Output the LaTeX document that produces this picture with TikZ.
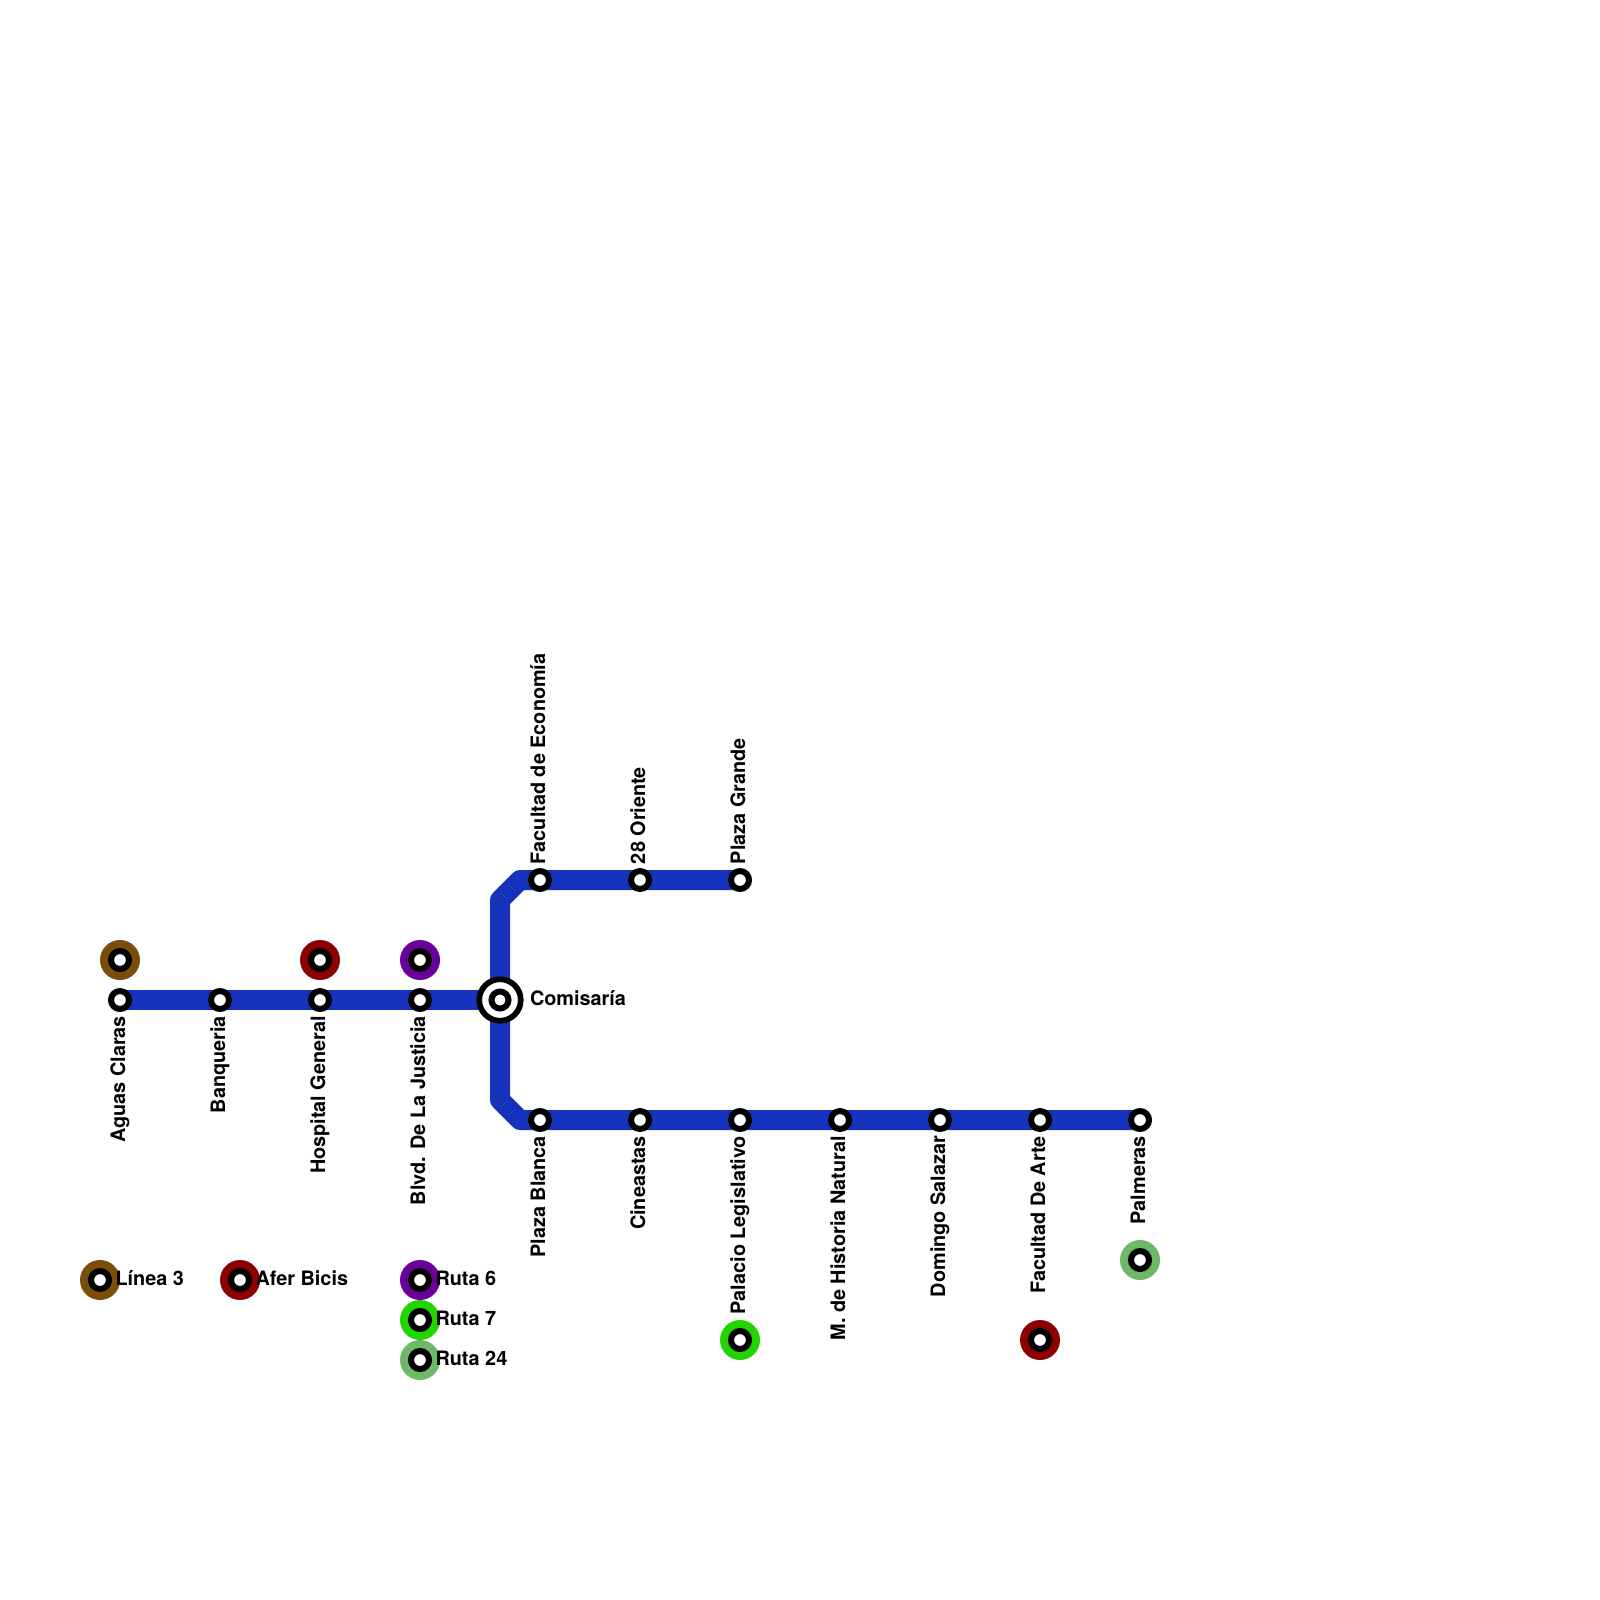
\documentclass[tikz,border=0pt]{standalone}
\usepackage{fontspec}
\setmainfont{TeX Gyre Heros}
\definecolor{lineblue}{HTML}{1733BD}
\definecolor{cbrown}{HTML}{7A4D08}
\definecolor{cred}{HTML}{8E0000}
\definecolor{cpurple}{HTML}{6A0099}
\definecolor{cgreen}{HTML}{22D400}
\definecolor{clight}{HTML}{6FB868}
\tikzset{
  stn/.style={circle,draw=black,fill=white,line width=6pt,minimum size=18pt,inner sep=0pt,outer sep=0pt},
  halo/.style={circle,fill=#1,minimum size=40pt,inner sep=0pt,outer sep=0pt},
  metro/.style={draw=lineblue,line width=20pt,line join=round},
  lbl/.style={font=\fontsize{19.85}{24}\selectfont\bfseries,inner sep=0pt,outer sep=0pt,text=black},
  up/.style={lbl,rotate=90,anchor=base west},
  down/.style={lbl,rotate=90,anchor=base east},
  side/.style={lbl,anchor=base west},
}
\begin{document}
\begin{tikzpicture}[x=1pt,y=-1pt]
\useasboundingbox (0,0) rectangle (1600,1600);
\coordinate (pA) at (120,1000);
\coordinate (pB) at (220,1000);
\coordinate (pC) at (320,1000);
\coordinate (pD) at (420,1000);
\coordinate (pX) at (500,1000);
\coordinate (pU0) at (500,900);
\coordinate (pU1) at (520,880);
\coordinate (pF) at (540,880);
\coordinate (pG) at (640,880);
\coordinate (pH) at (740,880);
\coordinate (pL0) at (500,1100);
\coordinate (pL1) at (520,1120);
\coordinate (pI) at (540,1120);
\coordinate (pJ) at (640,1120);
\coordinate (pK) at (740,1120);
\coordinate (pM) at (840,1120);
\coordinate (pN) at (940,1120);
\coordinate (pO) at (1040,1120);
\coordinate (pP) at (1140,1120);
\draw[metro] (pA) -- (pX);
\draw[metro] (pH) -- (pU1) -- (pU0) -- (pL0) -- (pL1) -- (pP);
% transfer halos
\node[halo=cbrown] (hA) at (120,960) {};
\node[halo=cred] (hC) at (320,960) {};
\node[halo=cpurple] (hD) at (420,960) {};
\node[halo=cgreen] (hK) at (740,1340) {};
\node[halo=cred] (hO) at (1040,1340) {};
\node[halo=clight] (hP) at (1140,1260) {};
\foreach \n in {hA,hC,hD,hK,hO,hP} \node[stn] (s\n) at (\n) {};
% stations
\foreach \n in {pA,pB,pC,pD,pF,pG,pH,pI,pJ,pK,pM,pN,pO,pP} \node[stn] (s\n) at (\n) {};
\node[circle,draw=black,fill=white,line width=5.7pt,minimum size=41.5pt,inner sep=0pt,outer sep=0pt] (xo) at (pX) {};
\node[circle,draw=black,fill=white,line width=6pt,minimum size=17pt,inner sep=0pt,outer sep=0pt] (xi) at (pX) {};
% labels
\node[down] (tA) at (125,1016) {Aguas Claras};
\node[down] (tB) at (225,1016) {Banqueria};
\node[down] (tC) at (325,1016) {Hospital General};
\node[down] (tD) at (425,1016) {Blvd. De La Justicia};
\node[down] (tI) at (545,1136) {Plaza Blanca};
\node[down] (tJ) at (645,1136) {Cineastas};
\node[down] (tK) at (745,1136) {Palacio Legislativo};
\node[down] (tM) at (845,1136) {M. de Historia Natural};
\node[down] (tN) at (945,1136) {Domingo Salazar};
\node[down] (tO) at (1045,1136) {Facultad De Arte};
\node[down] (tP) at (1145,1136) {Palmeras};
\node[up] (tF) at (545,864) {Facultad de Economía};
\node[up] (tG) at (645,864) {28 Oriente};
\node[up] (tH) at (745,864) {Plaza Grande};
\node[side] (tX) at (530,1005) {Comisaría};
% legend
\node[halo=cbrown] (l1) at (100,1280) {};
\node[halo=cred] (l2) at (240,1280) {};
\node[halo=cpurple] (l3) at (420,1280) {};
\node[halo=cgreen] (l4) at (420,1320) {};
\node[halo=clight] (l5) at (420,1360) {};
\foreach \n in {l1,l2,l3,l4,l5} \node[stn] (s\n) at (\n) {};
\node[side] (tl1) at (115.5,1285) {Línea 3};
\node[side] (tl2) at (255.5,1285) {Afer Bicis};
\node[side] (tl3) at (435.5,1285) {Ruta 6};
\node[side] (tl4) at (435.5,1325) {Ruta 7};
\node[side] (tl5) at (435.5,1365) {Ruta 24};
\end{tikzpicture}
\end{document}
